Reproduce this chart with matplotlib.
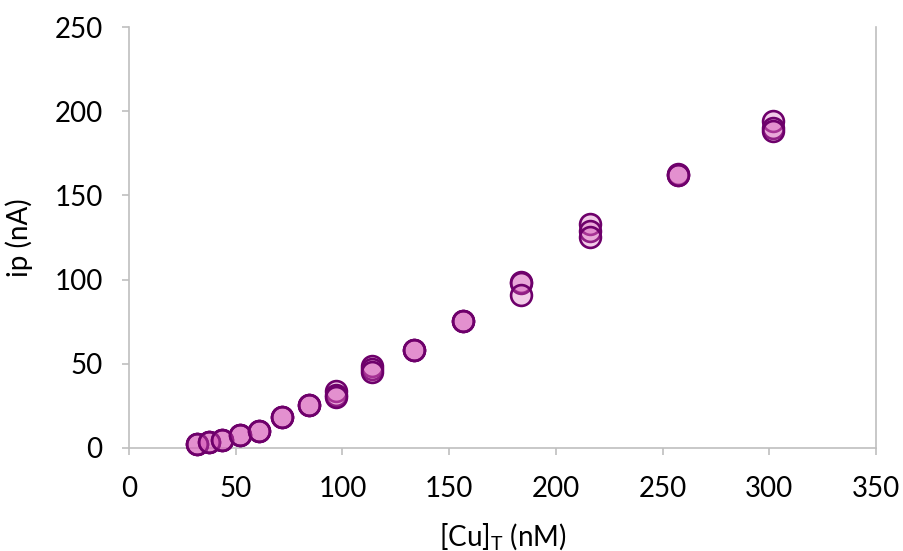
import matplotlib
matplotlib.use("Agg")
import matplotlib.pyplot as plt

plt.rcParams['font.family'] = ['Lato', 'DejaVu Sans']
plt.rcParams['mathtext.fontset'] = 'custom'
plt.rcParams['mathtext.rm'] = 'Lato'

conc = [32, 37.6, 43.8, 52, 61, 71.5, 84.3, 97, 114, 133.7, 156.7, 183.5, 216, 257, 301.8]
ip_rep1 = [2.4, 3.7, 4.8, 7.7, 10.3, 18.6, 25.5, 34, 48.9, 58.2, 75.6, 98.5, 133, 162.5, 194]
ip_rep2 = [2.4, 3.7, 4.8, 7.7, 10.3, 18.6, 25.5, 31.5, 47, 58.2, 75.6, 98, 129, 162, 190]
ip_rep3 = [2.4, 3.7, 4.8, 7.7, 10.3, 18.6, 25.5, 30, 45.3, 58.2, 75.6, 91, 125.5, 162, 188]

xticks = [0, 50, 100, 150, 200, 250, 300, 350]
yticks = [0, 50, 100, 150, 200, 250]

fig = plt.figure(figsize=(9.04, 5.51), dpi=100)
ax = fig.add_axes([129/904, 1 - 448/551, (876-129)/904, (448-27)/551])

fill = (217/255, 95/255, 186/255, 0.32)
edge = '#6E006B'
for ys in (ip_rep1, ip_rep2, ip_rep3):
    ax.scatter(conc, ys, s=225, facecolor=fill, edgecolor=edge, linewidth=1.9, zorder=3, clip_on=False)

ax.set_xlim(0, 350)
ax.set_ylim(0, 250)
ax.set_xticks(xticks)
ax.set_yticks(yticks)
ax.set_xticklabels([str(t) for t in xticks])
ax.set_yticklabels([str(t) for t in yticks])

gray = '#BFBFBF'
for side in ('left', 'bottom', 'right'):
    ax.spines[side].set_color(gray)
    ax.spines[side].set_linewidth(1.2)
ax.spines['top'].set_visible(False)

ax.tick_params(axis='both', colors=gray, labelcolor='black', labelsize=20, length=5, width=1.2)
ax.tick_params(axis='x', pad=15)
ax.tick_params(axis='y', pad=14)

ax.set_xlabel(r'[Cu]$_\mathregular{T}$ (nM)', fontsize=20, labelpad=14)
ax.set_ylabel('ip (nA)', fontsize=20, labelpad=15)

fig.savefig('out.png', dpi=100)
